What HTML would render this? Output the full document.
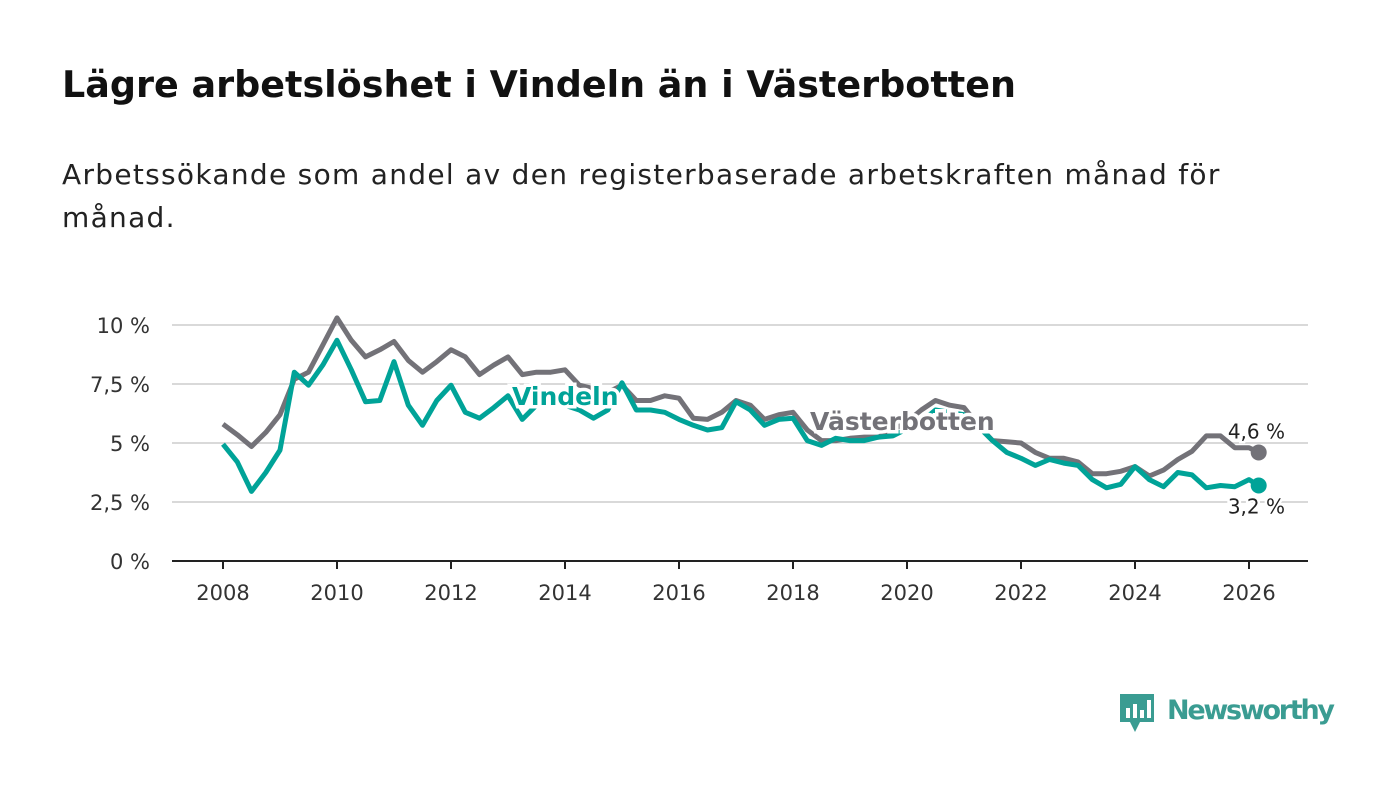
<!DOCTYPE html>
<html><head><meta charset="utf-8"><style>
body{margin:0;width:1400px;height:794px;background:#fff;font-family:"DejaVu Sans",sans-serif;overflow:hidden;position:relative}
h1{position:absolute;left:62px;top:63px;margin:0;font-size:36.5px;font-weight:bold;color:#111}
p{position:absolute;left:62px;top:153px;margin:0;font-size:28px;letter-spacing:1.3px;line-height:43px;color:#222;width:1240px}
svg{position:absolute;left:0;top:0}
</style></head><body>
<h1>Lägre arbetslöshet i Vindeln än i Västerbotten</h1>
<p>Arbetssökande som andel av den registerbaserade arbetskraften månad för månad.</p>
<svg width="1400" height="794">
<g id="grid"></g><g id="lines"></g><g id="labels"></g>
<g>
<path d="M1120 694 h34 v28 h-14 l-5 10 l-5 -10 h-10 z" fill="#3a9c92"/>
<rect x="1126" y="708" width="4" height="10" fill="#fff"/><rect x="1133" y="704" width="4" height="14" fill="#fff"/><rect x="1140" y="710" width="4" height="8" fill="#fff"/><rect x="1147" y="700" width="4" height="18" fill="#fff"/>
<text x="1167" y="719" font-size="27" font-weight="bold" fill="#3a9c92" font-family="DejaVu Sans, sans-serif" textLength="168">Newsworthy</text>
</g>
</svg>
<script>
const years=[2008,2008.25,2008.5,2008.75,2009,2009.25,2009.5,2009.75,2010,2010.25,2010.5,2010.75,2011,2011.25,2011.5,2011.75,2012,2012.25,2012.5,2012.75,2013,2013.25,2013.5,2013.75,2014,2014.25,2014.5,2014.75,2015,2015.25,2015.5,2015.75,2016,2016.25,2016.5,2016.75,2017,2017.25,2017.5,2017.75,2018,2018.25,2018.5,2018.75,2019,2019.25,2019.5,2019.75,2020,2020.25,2020.5,2020.75,2021,2021.25,2021.5,2021.75,2022,2022.25,2022.5,2022.75,2023,2023.25,2023.5,2023.75,2024,2024.25,2024.5,2024.75,2025,2025.25,2025.5,2025.75,2026,2026.17];
const vasterbotten=[5.8,5.35,4.85,5.45,6.2,7.7,8.0,9.15,10.3,9.35,8.65,8.95,9.3,8.5,8.0,8.45,8.95,8.65,7.9,8.3,8.65,7.9,8.0,8.0,8.1,7.45,7.3,7.15,7.45,6.8,6.8,7.0,6.9,6.05,6.0,6.3,6.8,6.6,6.0,6.2,6.3,5.55,5.1,5.1,5.2,5.25,5.25,5.55,5.9,6.4,6.8,6.6,6.5,5.75,5.1,5.05,5.0,4.6,4.35,4.35,4.2,3.7,3.7,3.8,4.0,3.6,3.85,4.3,4.65,5.3,5.3,4.8,4.8,4.6];
const vindeln=[4.95,4.2,2.95,3.75,4.7,8.0,7.45,8.3,9.35,8.1,6.75,6.8,8.45,6.6,5.75,6.8,7.45,6.3,6.05,6.5,7.0,6.0,6.6,6.8,6.6,6.4,6.05,6.4,7.55,6.4,6.4,6.3,6.0,5.75,5.55,5.65,6.75,6.4,5.75,6.0,6.05,5.1,4.9,5.2,5.1,5.1,5.25,5.3,5.6,5.9,6.4,6.3,6.2,5.7,5.1,4.6,4.35,4.05,4.3,4.15,4.05,3.45,3.1,3.25,4.0,3.45,3.15,3.75,3.65,3.1,3.2,3.15,3.45,3.2];
const yTicks=[0,2.5,5,7.5,10];
const yTickLabels=["0 %","2,5 %","5 %","7,5 %","10 %"];
const xTicks=[2008,2010,2012,2014,2016,2018,2020,2022,2024,2026];
const NS="http://www.w3.org/2000/svg";
const X=v=>223+(v-2008)*57, Y=v=>561-v*23.6;
function mk(tag,attrs,parent){const e=document.createElementNS(NS,tag);for(const k in attrs)e.setAttribute(k,attrs[k]);document.getElementById(parent).appendChild(e);return e;}
yTicks.forEach((t,i)=>{
 if(t>0){const l=mk('line',{x1:172,x2:1308,y1:Y(t),y2:Y(t),stroke:'#d9d9d9','stroke-width':2},'grid');
 
 }
 const tx=mk('text',{x:150,y:Y(t)+8,'text-anchor':'end','font-size':21,fill:'#333'},'grid');tx.textContent=yTickLabels[i];
 
 
});
const ax=mk('line',{x1:172,x2:1308,y1:561,y2:561,stroke:'#222','stroke-width':2},'grid');


xTicks.forEach(t=>{
 mk('line',{x1:X(t),x2:X(t),y1:561,y2:569,stroke:'#222','stroke-width':2},'grid');
 const tx=mk('text',{x:X(t),y:600,'text-anchor':'middle','font-size':21,fill:'#333'},'grid');tx.textContent=t;
 
 
});
function line(vals,color,name){
 const d=vals.map((v,i)=>(i?'L':'M')+X(years[i]).toFixed(1)+' '+Y(v).toFixed(1)).join(' ');
 const p=mk('path',{d:d,fill:'none',stroke:color,'stroke-width':5,'stroke-linejoin':'round'},'lines');
 
 
 const n=vals.length-1;
 const c=mk('circle',{cx:X(years[n]),cy:Y(vals[n]),r:8,fill:color},'lines');
 
 
}
line(vasterbotten,'#737278','vasterbotten-line');
line(vindeln,'#00a398','vindeln-line');
function lbl(x,y,txt,color,size,weight,name,anchor){
 const t=mk('text',{x:x,y:y,'font-size':size,'font-weight':weight,fill:color,stroke:'#fff','stroke-width':weight==='bold'?7:5,'paint-order':'stroke','text-anchor':anchor||'start'},'labels');t.textContent=txt;
 
 
}
lbl(512,405,'Vindeln','#00a398',25,'bold','vindeln-label');
lbl(810,430,'Västerbotten','#737278',25,'bold','vasterbotten-label');
const n=years.length-1;
lbl(1285,Y(vasterbotten[n])-14,'4,6 %','#222',20,'normal','vasterbotten-end-value','end');
lbl(1285,Y(vindeln[n])+28,'3,2 %','#222',20,'normal','vindeln-end-value','end');
</script>
</body></html>
